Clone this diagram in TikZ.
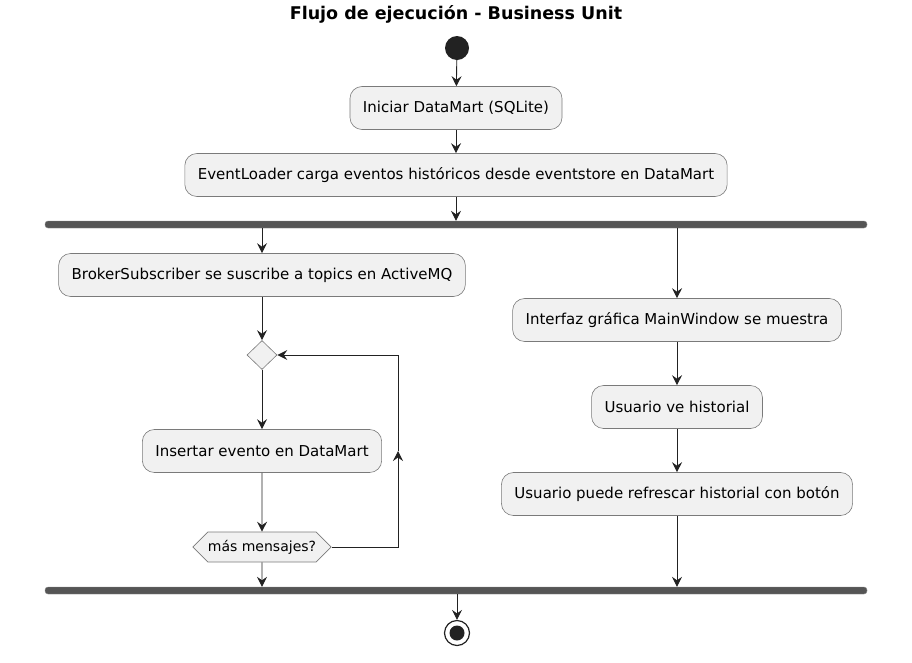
\documentclass[tikz,border=0pt]{standalone}
\usepackage{fontspec}
\setmainfont{DejaVu Sans}
\usetikzlibrary{arrows.meta}
\usetikzlibrary{shapes.geometric}
\usetikzlibrary{shapes.symbols}

\definecolor{boxfill}{HTML}{F1F1F1}
\definecolor{boxline}{HTML}{7A7A7A}
\definecolor{flowcol}{HTML}{222222}
\definecolor{barcol}{HTML}{555555}

\tikzset{
  act/.style={draw=boxline,fill=boxfill,line width=0.6pt,rounded corners=12pt,
    minimum height=43pt,inner xsep=13pt,font=\fontsize{15}{18}\selectfont},
  decide/.style={diamond,draw=boxline,fill=boxfill,line width=0.6pt,
    minimum width=30pt,minimum height=29pt,inner sep=0pt},
  loopcheck/.style={signal,signal to=west and east,draw=boxline,fill=boxfill,
    line width=0.6pt,minimum height=30pt,inner xsep=0pt,font=\fontsize{14}{16}\selectfont},
  forkbar/.style={fill=barcol,draw=barcol!70,minimum width=822pt,minimum height=7pt,
    inner sep=0pt,rounded corners=3pt},
  startdot/.style={circle,fill=flowcol,minimum size=24pt,inner sep=0pt},
  stopdot/.style={circle,draw=flowcol,line width=1.2pt,minimum size=25pt,inner sep=0pt,
    path picture={\fill[flowcol] (path picture bounding box.center) circle (7.5pt);}},
  flow/.style={->,draw=flowcol,line width=0.9pt}
}

\begin{document}
\begin{tikzpicture}[>={Stealth[length=10pt,width=10pt,inset=3.5pt]},x=1pt,y=-1pt]
  \useasboundingbox (0,0) rectangle (912,662);
  \node[font=\bfseries\fontsize{17.5}{20}\selectfont] (title) at (456,14) {Flujo de ejecución - Business Unit};
  % inicio y carga
  \node[startdot] (start) at (457,48) {};
  \node[act] (init) at (456,108) {Iniciar DataMart (SQLite)};
  \node[act] (loader) at (456,175) {EventLoader carga eventos históricos desde eventstore en DataMart};
  \node[forkbar] (fork) at (456,224.5) {};
  % rama izquierda
  \node[act] (broker) at (262,275) {BrokerSubscriber se suscribe a topics en ActiveMQ};
  \node[decide] (loophead) at (262,355) {};
  \node[act] (insert) at (262,451) {Insertar evento en DataMart};
  \node[loopcheck] (more) at (262,547) {más mensajes?};
  \coordinate (loopup) at (398,451);
  % rama derecha
  \node[act] (gui) at (677,320) {Interfaz gráfica MainWindow se muestra};
  \node[act] (history) at (677,407) {Usuario ve historial};
  \node[act] (refresh) at (677,494) {Usuario puede refrescar historial con botón};
  % fin
  \node[forkbar] (join) at (456,590.5) {};
  \node[stopdot] (stop) at (457,633) {};

  \draw[flow] (start) -- (init);
  \draw[flow] (init) -- (loader);
  \draw[flow] (loader) -- (loader |- fork.north);
  \draw[flow] (fork.south -| broker) -- (broker);
  \draw[flow] (broker) -- (loophead);
  \draw[flow] (loophead) -- (insert);
  \draw[flow] (insert) -- (more);
  \draw[flow] (more.east) -| (loopup);
  \draw[flow] (loopup) |- (loophead.east);
  \draw[flow] (more) -- (more |- join.north);
  \draw[flow] (fork.south -| gui) -- (gui);
  \draw[flow] (gui) -- (history);
  \draw[flow] (history) -- (refresh);
  \draw[flow] (refresh) -- (refresh |- join.north);
  \draw[flow] (join.south -| stop) -- (stop);
\end{tikzpicture}
\end{document}
